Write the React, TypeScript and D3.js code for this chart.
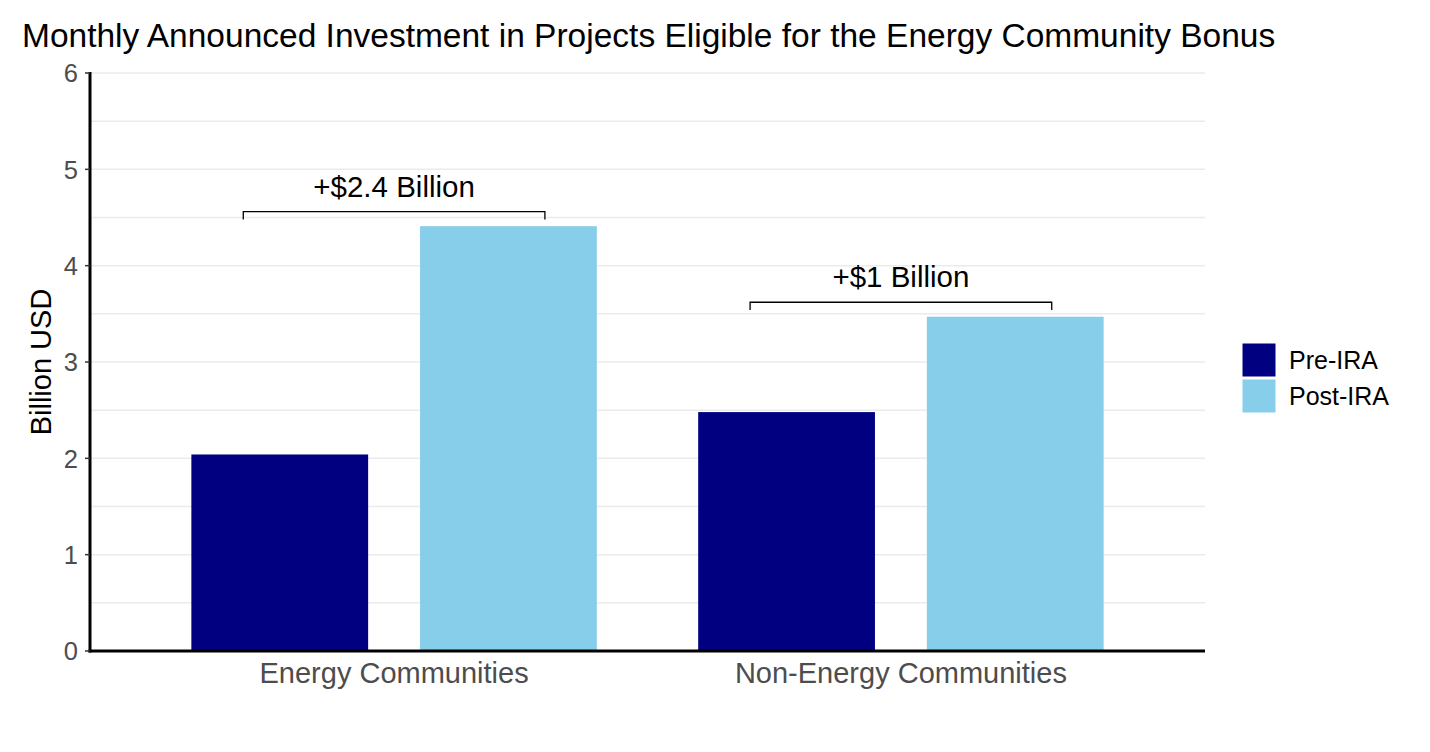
import React, { useEffect, useRef } from 'react';
import * as d3 from 'd3';

const categories = ['Energy Communities', 'Non-Energy Communities'];
const periods = ['Pre-IRA', 'Post-IRA'];
const preIRA = [2.04, 2.48];
const postIRA = [4.41, 3.47];
const changeLabels = ['+$2.4 Billion', '+$1 Billion'];
const yTicks = [0, 1, 2, 3, 4, 5, 6];

const width = 1430;
const height = 752;
const colors = ['#000080', '#87ceeb'];

function App() {
  const ref = useRef<SVGSVGElement>(null);

  useEffect(() => {
    if (!ref.current) return;
    const svg = d3.select(ref.current);
    svg.selectAll('*').remove();

    const left = 90, right = 1205, top = 73, bottom = 651;

    const y = d3.scaleLinear().domain([0, 6]).range([bottom, top]);
    const x0 = d3.scaleBand().domain(categories).range([left, right]).paddingInner(0.2).paddingOuter(0.2);
    const x1 = d3.scaleBand().domain(periods).range([0, x0.bandwidth()]).paddingInner(0.227).paddingOuter(0);

    // gridlines (major + minor)
    const grid = d3.range(0, 6.01, 0.5);
    svg.append('g').selectAll('line').data(grid).enter().append('line')
      .attr('x1', left).attr('x2', right)
      .attr('y1', d => y(d)).attr('y2', d => y(d))
      .style('stroke', '#ebebeb').style('stroke-width', 1.5);

    // bars
    const rows = categories.map((c, i) => ({ cat: c, values: [preIRA[i], postIRA[i]] }));
    const groups = svg.append('g').selectAll('g').data(rows).enter().append('g')
      .attr('transform', d => `translate(${x0(d.cat)},0)`);
    groups.selectAll('rect').data(d => d.values.map((v, j) => ({ period: periods[j], v, j }))).enter()
      .append('rect')
      .attr('x', d => x1(d.period)!)
      .attr('y', d => y(d.v))
      .attr('width', x1.bandwidth())
      .attr('height', d => y(0) - y(d.v))
      .attr('fill', d => colors[d.j]);

    // brackets
    const gap = x1.step() - x1.bandwidth();
    rows.forEach((r, i) => {
      const gx = x0(r.cat)!;
      const bx1 = gx + gap;
      const bx2 = gx + x0.bandwidth() - gap;
      const top = Math.max(...r.values) + 0.15;
      const by = y(top);
      const tick = y(top - 0.08);
      svg.append('path')
        .attr('d', `M${bx1},${tick}V${by}H${bx2}V${tick}`)
        .attr('fill', 'none').attr('stroke', '#000').attr('stroke-width', 1.3);
      svg.append('text')
        .attr('x', (bx1 + bx2) / 2).attr('y', by - 15)
        .attr('text-anchor', 'middle')
        .style('font-size', '29.5px').style('fill', '#000')
        .text(changeLabels[i]);
    });

    // axes lines
    svg.append('line').attr('x1', left).attr('x2', left).attr('y1', top - 1).attr('y2', bottom + 1.5)
      .style('stroke', '#000').style('stroke-width', 3);
    svg.append('line').attr('x1', left - 1.5).attr('x2', right).attr('y1', bottom).attr('y2', bottom)
      .style('stroke', '#000').style('stroke-width', 3);

    // y ticks
    const yt = svg.append('g').selectAll('g').data(yTicks).enter().append('g')
      .attr('transform', d => `translate(${left},${y(d)})`);
    yt.append('line').attr('x1', -5).attr('x2', 0).style('stroke', '#333').style('stroke-width', 1.5);
    yt.append('text').attr('x', -12).attr('dy', '0.36em').attr('text-anchor', 'end')
      .style('font-size', '25.5px').style('fill', '#4d4d4d').text(d => d);

    // x labels
    svg.append('g').selectAll('text').data(categories).enter().append('text')
      .attr('x', d => x0(d)! + x0.bandwidth() / 2).attr('y', 683)
      .attr('text-anchor', 'middle')
      .style('font-size', '29px').style('fill', '#4d4d4d').text(d => d);

    // y axis title
    svg.append('text')
      .attr('transform', `translate(51,${(top + bottom) / 2}) rotate(-90)`)
      .attr('text-anchor', 'middle')
      .style('font-size', '29px').style('fill', '#000').text('Billion USD');

    // title
    svg.append('text').attr('x', 22).attr('y', 47)
      .style('font-size', '33.5px').style('fill', '#000')
      .text('Monthly Announced Investment in Projects Eligible for the Energy Community Bonus');

    // legend
    const lg = svg.append('g').selectAll('g').data(periods).enter().append('g')
      .attr('transform', (d, i) => `translate(1242,${343 + i * 36})`);
    lg.append('rect').attr('width', 34).attr('height', 34)
      .attr('fill', (d, i) => colors[i]).attr('stroke', '#fff').attr('stroke-width', 1);
    lg.append('text').attr('x', 47).attr('y', 17).attr('dy', '0.36em')
      .style('font-size', '25px').style('fill', '#000').text(d => d);
  }, []);

  return (
    <svg ref={ref} width={width} height={height}
      style={{ position: 'absolute', left: 0, top: 0, background: '#fff', fontFamily: 'Liberation Sans, Arial, sans-serif' }} />
  );
}

export default App;
